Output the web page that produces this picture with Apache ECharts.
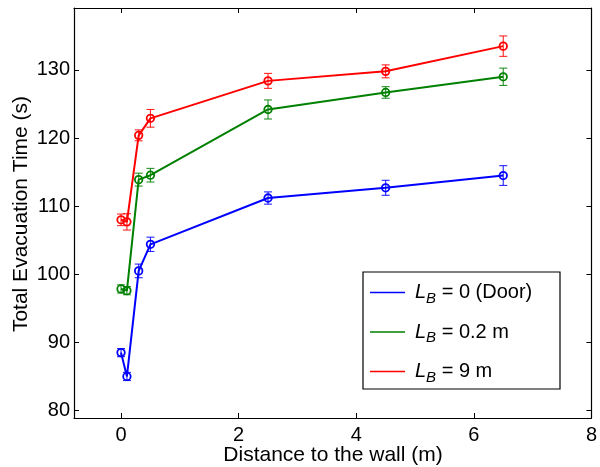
<!DOCTYPE html>
<html>
<head>
<meta charset="utf-8">
<script src="https://cdn.jsdelivr.net/npm/echarts@6/dist/echarts.min.js"></script>
<style>html,body{margin:0;padding:0;background:#fff}#c{width:600px;height:467px}</style>
</head>
<body>
<div id="c"></div>
<script>
var distances = [0, 0.1, 0.3, 0.5, 2.5, 4.5, 6.5];
var doorMean = [88.5, 85.0, 100.5, 104.4, 111.2, 112.7, 114.5];
var doorErr  = [0.6, 0.6, 1.0, 1.05, 0.9, 1.1, 1.45];
var lb02Mean = [97.85, 97.6, 113.9, 114.55, 124.2, 126.7, 129.0];
var lb02Err  = [0.6, 0.6, 0.95, 1.0, 1.4, 0.85, 1.27];
var lb9Mean  = [108.0, 107.7, 120.4, 122.9, 128.4, 129.8, 133.5];
var lb9Err   = [0.85, 1.2, 0.8, 1.3, 1.1, 0.95, 1.5];
var xTicks = [0, 2, 4, 6, 8];
var yTicks = [80, 90, 100, 110, 120, 130];
var seriesNames = ['L_B = 0 (Door)', 'L_B = 0.2 m', 'L_B = 9 m'];
var legendTexts = ['{l|L}{s|B}{t| = 0 (Door)}', '{l|L}{s|B}{t| = 0.2 m}', '{l|L}{s|B}{t| = 9 m}'];
var colors = ['#0000ff', '#008000', '#ff0000'];

var FONT = 'Liberation Sans, Arial, Helvetica, sans-serif';
var FS = 20;

function pts(m) { return distances.map(function (d, i) { return [d, m[i]]; }); }
function errs(m, e) { return distances.map(function (d, i) { return [d, m[i] - e[i], m[i] + e[i]]; }); }

function errRender(color) {
  return function (params, api) {
    var x = api.value(0);
    var lo = api.coord([x, api.value(1)]);
    var hi = api.coord([x, api.value(2)]);
    var w = 4;
    var st = { stroke: color, lineWidth: 1.1, opacity: 0.85 };
    return {
      type: 'group',
      children: [
        { type: 'line', shape: { x1: lo[0], y1: lo[1], x2: hi[0], y2: hi[1] }, style: st },
        { type: 'line', shape: { x1: lo[0] - w, y1: lo[1], x2: lo[0] + w, y2: lo[1] }, style: st },
        { type: 'line', shape: { x1: hi[0] - w, y1: hi[1], x2: hi[0] + w, y2: hi[1] }, style: st }
      ]
    };
  };
}

var means = [doorMean, lb02Mean, lb9Mean];
var errsArr = [doorErr, lb02Err, lb9Err];
var series = [];
for (var k = 0; k < 3; k++) {
  series.push({
    name: seriesNames[k], type: 'line', data: pts(means[k]),
    xAxisIndex: 0, yAxisIndex: 0,
    symbol: 'circle', symbolSize: 7.5, color: colors[k],
    lineStyle: { width: 2, color: colors[k] },
    itemStyle: { color: 'rgba(0,0,0,0)', borderColor: colors[k], borderWidth: 1.8 },
    emphasis: { disabled: true },
    z: 3, animation: false
  });
  series.push({
    type: 'custom', data: errs(means[k], errsArr[k]),
    xAxisIndex: 0, yAxisIndex: 0,
    renderItem: errRender(colors[k]), z: 4, animation: false, silent: true
  });
}

var axisLineStyle = { show: true, onZero: false, lineStyle: { color: '#000', width: 1.2 } };
var tickStyle = { show: true, inside: true, length: 5, lineStyle: { color: '#000', width: 1 } };
var labelStyle = { color: '#000', fontSize: FS, fontFamily: FONT };

var chart = echarts.init(document.getElementById('c'), null, { renderer: 'canvas' });
chart.setOption({
  animation: false,
  backgroundColor: '#fff',
  grid: { left: 74, top: 8, right: 6, bottom: 49, show: false },
  xAxis: [
    { type: 'value', min: -0.8, max: 8, position: 'bottom',
      axisLine: axisLineStyle, axisTick: Object.assign({}, tickStyle, { customValues: xTicks }),
      axisLabel: Object.assign({}, labelStyle, { customValues: xTicks, margin: 7 }),
      splitLine: { show: false } },
    { type: 'value', min: -0.8, max: 8, position: 'top',
      axisLine: axisLineStyle, axisTick: Object.assign({}, tickStyle, { customValues: xTicks }),
      axisLabel: { show: false }, splitLine: { show: false } }
  ],
  yAxis: [
    { type: 'value', min: 78.9, max: 139.1, position: 'left',
      axisLine: axisLineStyle, axisTick: Object.assign({}, tickStyle, { customValues: yTicks }),
      axisLabel: Object.assign({}, labelStyle, { customValues: yTicks, margin: 4 }),
      splitLine: { show: false } },
    { type: 'value', min: 78.9, max: 139.1, position: 'right',
      axisLine: axisLineStyle, axisTick: Object.assign({}, tickStyle, { customValues: yTicks }),
      axisLabel: { show: false }, splitLine: { show: false } }
  ],
  legend: {
    orient: 'vertical', left: 365, top: 274, itemGap: 12.5, padding: 5,
    itemWidth: 35, itemHeight: 1.5, icon: 'rect',
    data: seriesNames.map(function (n, i) {
      return { name: n, itemStyle: { color: colors[i], borderWidth: 0 } };
    }),
    formatter: function (name) { return legendTexts[seriesNames.indexOf(name)]; },
    textStyle: {
      color: '#000', fontFamily: FONT, fontSize: FS, padding: [0, 0, 0, 5],
      rich: {
        l: { fontSize: FS, fontStyle: 'italic', fontFamily: FONT, color: '#000', lineHeight: 22 },
        s: { fontSize: 15, fontStyle: 'italic', fontFamily: FONT, color: '#000', padding: [12, 0, 0, 0], lineHeight: 22 },
        t: { fontSize: FS, fontFamily: FONT, color: '#000', lineHeight: 22 }
      }
    },
    z: 10
  },
  graphic: [
    { type: 'rect', shape: { x: 363, y: 272, width: 197, height: 117 },
      style: { fill: '#fff', stroke: '#000', lineWidth: 1.2 }, z: 5 },
    { type: 'text', x: 21, y: 214, rotation: Math.PI / 2,
      style: { text: 'Total Evacuation Time (s)', fill: '#000', font: '21px ' + FONT,
               textAlign: 'center', textVerticalAlign: 'middle' } },
    { type: 'text', x: 333, y: 455,
      style: { text: 'Distance to the wall (m)', fill: '#000', font: '21px ' + FONT,
               textAlign: 'center', textVerticalAlign: 'middle' } }
  ],
  series: series
});
</script>
</body>
</html>
